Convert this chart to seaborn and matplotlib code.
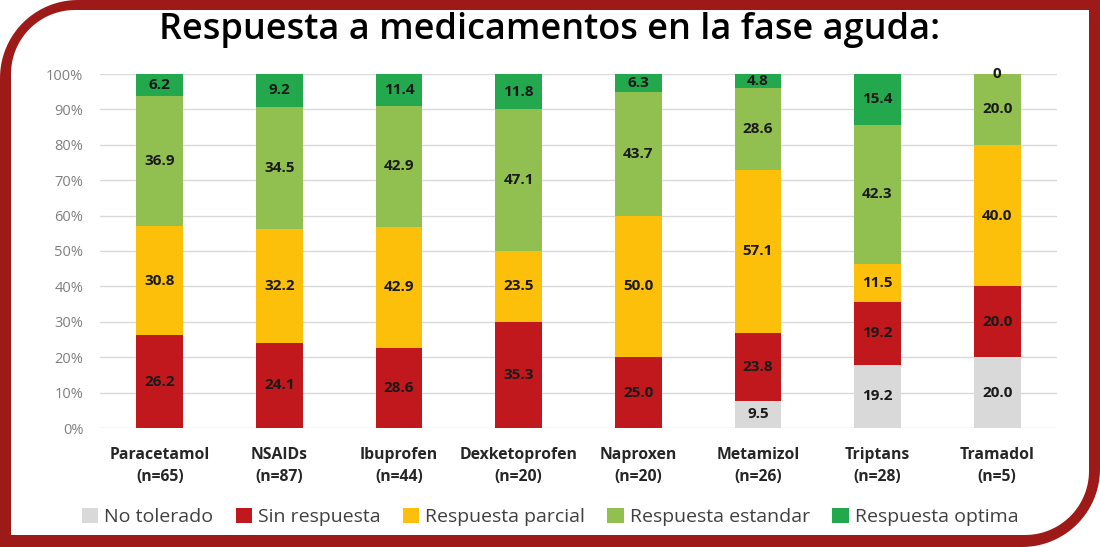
import numpy as np
import pandas as pd
import matplotlib
matplotlib.use("Agg")
import matplotlib.pyplot as plt
import seaborn as sns
from matplotlib.patches import Polygon, Patch
from matplotlib.transforms import IdentityTransform

sns.set_theme(style="white")
plt.rcParams["font.family"] = ["Open Sans", "DejaVu Sans"]

# data
drugs = ["Paracetamol\n(n=65)", "NSAIDs\n(n=87)", "Ibuprofen\n(n=44)", "Dexketoprofen\n(n=20)",
         "Naproxen\n(n=20)", "Metamizol\n(n=26)", "Triptans\n(n=28)", "Tramadol\n(n=5)"]
series = ["No tolerado", "Sin respuesta", "Respuesta parcial", "Respuesta estandar", "Respuesta optima"]
no_tolerado = [np.nan, np.nan, np.nan, np.nan, np.nan, 9.5, 19.2, 20.0]
sin_respuesta = [26.2, 24.1, 28.6, 35.3, 25.0, 23.8, 19.2, 20.0]
parcial = [30.8, 32.2, 42.9, 23.5, 50.0, 57.1, 11.5, 40.0]
estandar = [36.9, 34.5, 42.9, 47.1, 43.7, 28.6, 42.3, 20.0]
optima = [6.2, 9.2, 11.4, 11.8, 6.3, 4.8, 15.4, 0.0]
colors = ["#D9D9D9", "#C0181C", "#FCC00A", "#92C050", "#23A84E"]

vals = np.array([no_tolerado, sin_respuesta, parcial, estandar, optima], dtype=float)
filled = np.nan_to_num(vals)
pct = filled / filled.sum(axis=0) * 100
tops = np.cumsum(pct, axis=0)

W, H = 1100, 547
fig = plt.figure(figsize=(W / 100, H / 100), dpi=100)
fig.patch.set_facecolor("white")


def frame_shape(x0, y0, x1, y1, r):
    # rectangle in image pixels (y down), rounded top-left and bottom-right
    pts = []
    t = np.linspace(0, np.pi / 2, 30)
    cx, cy = x0 + r, y0 + r
    pts += list(zip(cx - r * np.cos(t), cy - r * np.sin(t)))
    pts += [(x1, y0), (x1, y1 - r)]
    cx, cy = x1 - r, y1 - r
    pts += list(zip(cx + r * np.cos(t), cy + r * np.sin(t)))
    pts += [(x0, y1)]
    return [(x, H - y) for x, y in pts]


fig.patches.append(Polygon(frame_shape(0, 0, W, H, 78), closed=True, facecolor="#9E1A18",
                           edgecolor="none", transform=IdentityTransform(), figure=fig, zorder=-3))
fig.patches.append(Polygon(frame_shape(11, 10, W - 11, H - 12, 64), closed=True, facecolor="white",
                           edgecolor="none", transform=IdentityTransform(), figure=fig, zorder=-2))

ax = fig.add_axes([100 / W, 1 - 428 / H, (1057 - 100) / W, (428 - 74) / H])
ax.set_facecolor("none")

df = pd.DataFrame({"drug": drugs})
for i in range(len(series) - 1, -1, -1):
    df["top"] = tops[i]
    sns.barplot(data=df, x="drug", y="top", order=drugs, color=colors[i], width=0.39,
                saturation=1, edgecolor="none", ax=ax, zorder=2)

# value labels at segment centres
for i in range(len(series)):
    for j in range(len(drugs)):
        if np.isnan(vals[i, j]):
            continue
        mid = tops[i, j] - pct[i, j] / 2
        txt = "0" if vals[i, j] == 0 else f"{vals[i, j]:.1f}"
        ax.text(j, mid, txt, ha="center", va="center", fontsize=11, fontweight="bold",
                color="#1A1A1A", zorder=3)

ax.set_ylim(0, 100)
ax.set_xlim(-0.5, len(drugs) - 0.5)
ax.set_yticks(np.arange(0, 101, 10))
ax.set_yticklabels([f"{v}%" for v in range(0, 101, 10)])
ax.grid(axis="y", color="#D9D9D9", lw=1, zorder=0)
ax.set_axisbelow(True)
for s in ax.spines.values():
    s.set_visible(False)
ax.set_xlabel("")
ax.set_ylabel("")
ax.tick_params(axis="y", length=0, pad=12, labelsize=10.5, labelcolor="#808080")
ax.tick_params(axis="x", length=0, pad=14)
for lbl in ax.get_xticklabels():
    lbl.set_fontsize(11.3)
    lbl.set_fontweight("bold")
    lbl.set_color("#262626")
    lbl.set_linespacing(1.45)

fig.text(0.5, 1 - 30 / H, "Respuesta a medicamentos en la fase aguda:", ha="center", va="center",
         fontsize=26, fontweight="semibold", color="black")

handles = [Patch(facecolor=c, edgecolor="none") for c in colors]
fig.legend(handles, series, loc="center", bbox_to_anchor=(0.5, 1 - 517 / H), ncol=5, frameon=False,
           fontsize=14, labelcolor="#404040", handlelength=0.85, handleheight=0.85,
           handletextpad=0.3, columnspacing=1.15)

fig.savefig("out.png", dpi=100)
